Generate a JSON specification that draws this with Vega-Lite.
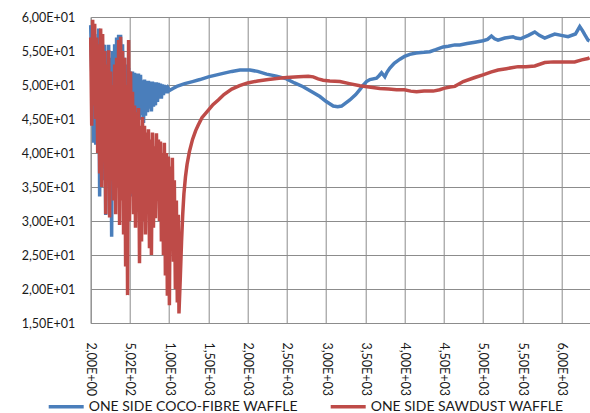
{
  "$schema": "https://vega.github.io/schema/vega-lite/v6.json",
  "autosize": {"type": "none"},
  "padding": {"left": 90.7, "top": 17, "right": 0.3, "bottom": 90},
  "width": 499,
  "height": 306,
  "background": "white",
  "config": {
    "view": {"stroke": null},
    "font": "Lato",
    "axis": {"labelFont": "Lato", "labelFontSize": 12.5, "labelColor": "#1a1a1a", "gridColor": "#8c8c8c", "gridWidth": 1, "domainColor": "#8c8c8c", "ticks": false}
  },
  "datasets": {
    "coco": [
      {"x":2,"y":58.8},{"x":15,"y":52},{"x":27,"y":58},{"x":40,"y":41.5},{"x":53,"y":57.5},{"x":66,"y":41.2},{"x":78,"y":55},{"x":91,"y":45},{"x":104,"y":58.3},{"x":116,"y":33.6},{"x":129,"y":57},{"x":142,"y":38},{"x":154,"y":56},{"x":167,"y":36},{"x":180,"y":55.9},{"x":193,"y":30.9},{"x":205,"y":55},{"x":218,"y":40},{"x":231,"y":55.9},{"x":243,"y":35},{"x":256,"y":54},{"x":269,"y":27.7},{"x":281,"y":55},{"x":294,"y":40},{"x":307,"y":56},{"x":320,"y":42},{"x":332,"y":57},{"x":345,"y":44},{"x":358,"y":57.4},{"x":370,"y":43},{"x":383,"y":57.4},{"x":396,"y":42},{"x":408,"y":56},{"x":421,"y":40},{"x":434,"y":54},{"x":447,"y":38},{"x":459,"y":53},{"x":472,"y":36},{"x":485,"y":52.5},{"x":497,"y":35},{"x":510,"y":52},{"x":523,"y":33.6},{"x":535,"y":52},{"x":548,"y":38},{"x":561,"y":51.8},{"x":573,"y":42},{"x":586,"y":51.7},{"x":599,"y":44},{"x":611,"y":51.7},{"x":624,"y":45},{"x":637,"y":51.5},{"x":650,"y":45.6},{"x":662,"y":50.7},{"x":675,"y":44.4},{"x":688,"y":50.8},{"x":700,"y":45.5},{"x":713,"y":50.6},{"x":726,"y":46},{"x":738,"y":50.6},{"x":751,"y":46.5},{"x":764,"y":50.5},{"x":776,"y":46.1},{"x":789,"y":50.5},{"x":802,"y":46.8},{"x":814,"y":50.4},{"x":827,"y":47},{"x":840,"y":50.4},{"x":853,"y":47.5},{"x":865,"y":50.3},{"x":878,"y":48},{"x":891,"y":50.2},{"x":903,"y":48},{"x":916,"y":50.1},{"x":929,"y":48.5},{"x":941,"y":50},{"x":954,"y":48.8},{"x":967,"y":49.9},{"x":979,"y":48.8},{"x":992,"y":49.5},{"x":1008,"y":49.2},{"x":1050,"y":49.5},{"x":1100,"y":49.8},{"x":1200,"y":50.2},{"x":1300,"y":50.5},{"x":1394,"y":50.8},{"x":1502,"y":51.2},{"x":1649,"y":51.6},{"x":1800,"y":52.0},{"x":1904,"y":52.2},{"x":2031,"y":52.2},{"x":2130,"y":52.0},{"x":2243,"y":51.6},{"x":2370,"y":51.3},{"x":2498,"y":50.9},{"x":2600,"y":50.3},{"x":2710,"y":49.75},{"x":2820,"y":49.0},{"x":2923,"y":48.3},{"x":3000,"y":47.6},{"x":3093,"y":46.9},{"x":3150,"y":46.8},{"x":3200,"y":46.9},{"x":3305,"y":47.8},{"x":3380,"y":48.6},{"x":3432,"y":49.3},{"x":3470,"y":49.9},{"x":3517,"y":50.5},{"x":3560,"y":50.8},{"x":3645,"y":51.0},{"x":3680,"y":51.4},{"x":3709,"y":51.8},{"x":3751,"y":51.2},{"x":3780,"y":51.9},{"x":3815,"y":52.5},{"x":3870,"y":53.2},{"x":3943,"y":53.8},{"x":4002,"y":54.2},{"x":4069,"y":54.5},{"x":4150,"y":54.7},{"x":4250,"y":54.8},{"x":4324,"y":54.9},{"x":4400,"y":55.2},{"x":4494,"y":55.6},{"x":4560,"y":55.7},{"x":4643,"y":55.9},{"x":4706,"y":55.9},{"x":4800,"y":56.1},{"x":4900,"y":56.3},{"x":5002,"y":56.5},{"x":5060,"y":56.7},{"x":5110,"y":57.2},{"x":5150,"y":56.8},{"x":5194,"y":56.6},{"x":5280,"y":56.9},{"x":5385,"y":57.1},{"x":5420,"y":56.9},{"x":5480,"y":56.8},{"x":5580,"y":57.3},{"x":5662,"y":57.8},{"x":5720,"y":57.3},{"x":5789,"y":56.9},{"x":5850,"y":57.2},{"x":5917,"y":57.5},{"x":6000,"y":57.3},{"x":6086,"y":57.1},{"x":6180,"y":57.5},{"x":6235,"y":58.6},{"x":6270,"y":58.0},{"x":6299,"y":57.4},{"x":6341,"y":56.6},{"x":6360,"y":56.5}
    ],
    "sawdust": [
      {"x":2,"y":57},{"x":15,"y":44},{"x":27,"y":59.6},{"x":40,"y":47},{"x":53,"y":59},{"x":66,"y":45},{"x":78,"y":57},{"x":91,"y":40},{"x":104,"y":56},{"x":116,"y":37},{"x":129,"y":58.3},{"x":142,"y":35},{"x":154,"y":57.5},{"x":167,"y":42},{"x":180,"y":55},{"x":193,"y":31},{"x":205,"y":53},{"x":218,"y":38},{"x":231,"y":55.1},{"x":243,"y":30.5},{"x":256,"y":52},{"x":269,"y":36},{"x":281,"y":50},{"x":294,"y":33},{"x":307,"y":53},{"x":320,"y":31},{"x":332,"y":54},{"x":345,"y":35},{"x":358,"y":56.6},{"x":370,"y":29.4},{"x":383,"y":57.1},{"x":396,"y":33},{"x":408,"y":55},{"x":421,"y":28},{"x":434,"y":54},{"x":447,"y":23.3},{"x":459,"y":50},{"x":472,"y":19.1},{"x":485,"y":56.6},{"x":497,"y":30},{"x":510,"y":52},{"x":523,"y":34},{"x":535,"y":49},{"x":548,"y":31},{"x":561,"y":47},{"x":573,"y":29},{"x":586,"y":46},{"x":599,"y":33},{"x":611,"y":46.6},{"x":624,"y":23.8},{"x":637,"y":44},{"x":650,"y":27},{"x":662,"y":45.3},{"x":675,"y":30},{"x":688,"y":44},{"x":700,"y":28},{"x":713,"y":43},{"x":726,"y":32},{"x":738,"y":43.5},{"x":751,"y":26},{"x":764,"y":42},{"x":776,"y":25},{"x":789,"y":43},{"x":802,"y":29},{"x":814,"y":41},{"x":827,"y":30.4},{"x":840,"y":42.9},{"x":853,"y":33},{"x":865,"y":42},{"x":878,"y":30},{"x":891,"y":41.7},{"x":903,"y":27},{"x":916,"y":40},{"x":929,"y":25},{"x":941,"y":41.5},{"x":954,"y":22},{"x":967,"y":40},{"x":979,"y":19},{"x":992,"y":39.5},{"x":1005,"y":17.6},{"x":1017,"y":38},{"x":1030,"y":25.8},{"x":1043,"y":39.3},{"x":1056,"y":24},{"x":1068,"y":36},{"x":1081,"y":20},{"x":1094,"y":33},{"x":1106,"y":18},{"x":1119,"y":30.9},{"x":1127,"y":16.4},{"x":1145,"y":22},{"x":1160,"y":27},{"x":1175,"y":31},{"x":1190,"y":34},{"x":1210,"y":36.5},{"x":1230,"y":38.3},{"x":1260,"y":40.2},{"x":1300,"y":42},{"x":1340,"y":43.3},{"x":1373,"y":44.1},{"x":1420,"y":45.2},{"x":1502,"y":46.3},{"x":1560,"y":47.1},{"x":1628,"y":47.8},{"x":1700,"y":48.6},{"x":1800,"y":49.4},{"x":1900,"y":49.9},{"x":2002,"y":50.3},{"x":2130,"y":50.6},{"x":2265,"y":50.8},{"x":2400,"y":51.0},{"x":2500,"y":51.1},{"x":2650,"y":51.2},{"x":2775,"y":51.3},{"x":2838,"y":51.2},{"x":2900,"y":50.9},{"x":2965,"y":50.7},{"x":3050,"y":50.6},{"x":3178,"y":50.5},{"x":3300,"y":50.2},{"x":3432,"y":49.9},{"x":3550,"y":49.7},{"x":3687,"y":49.5},{"x":3800,"y":49.4},{"x":3900,"y":49.3},{"x":4002,"y":49.3},{"x":4080,"y":49.1},{"x":4155,"y":49.0},{"x":4250,"y":49.1},{"x":4367,"y":49.1},{"x":4450,"y":49.3},{"x":4502,"y":49.5},{"x":4580,"y":49.7},{"x":4643,"y":49.8},{"x":4750,"y":50.5},{"x":4898,"y":51.1},{"x":5002,"y":51.5},{"x":5100,"y":51.9},{"x":5194,"y":52.2},{"x":5300,"y":52.4},{"x":5449,"y":52.7},{"x":5550,"y":52.7},{"x":5662,"y":52.8},{"x":5789,"y":53.3},{"x":5900,"y":53.4},{"x":6002,"y":53.4},{"x":6170,"y":53.4},{"x":6260,"y":53.7},{"x":6340,"y":53.9},{"x":6360,"y":54.0}
    ]
  },
  "encoding": {
    "x": {
      "field": "x", "type": "quantitative",
      "scale": {"domain": [2, 6362], "nice": false, "zero": false},
      "axis": {"title": null, "values": [2, 502, 1002, 1502, 2002, 2502, 3002, 3502, 4002, 4502, 5002, 5502, 6002], "labelAngle": 90, "labelPadding": 19, "labelExpr": "replace(replace(format(datum.value, '.2e'), 'e+', 'E+0'), '.', ',')"}
    },
    "y": {
      "field": "y", "type": "quantitative",
      "scale": {"domain": [15, 60], "nice": false, "zero": false},
      "axis": {"title": null, "values": [15, 20, 25, 30, 35, 40, 45, 50, 55, 60], "labelPadding": 16, "labelExpr": "replace(replace(format(datum.value, '.2e'), 'e+', 'E+0'), '.', ',')"}
    }
  },
  "layer": [
    {
      "data": {"name": "coco"},
      "mark": {"type": "line", "strokeWidth": 3.5, "interpolate": "linear"},
      "encoding": {
        "color": {
          "datum": "ONE SIDE COCO-FIBRE WAFFLE",
          "scale": {"domain": ["ONE SIDE COCO-FIBRE WAFFLE", "ONE SIDE SAWDUST WAFFLE"], "range": ["#4A7EBB", "#BE4B48"]},
          "legend": {"title": null, "orient": "none", "direction": "horizontal", "legendX": -44, "legendY": 370, "symbolType": "stroke", "symbolSize": 1225, "symbolStrokeWidth": 3.5, "labelFont": "Lato", "labelFontSize": 14, "labelColor": "#1a1a1a", "labelLimit": 400, "labelOffset": 3, "columnPadding": 25, "padding": 0}
        }
      }
    },
    {
      "data": {"name": "sawdust"},
      "mark": {"type": "line", "strokeWidth": 3.5, "interpolate": "linear"},
      "encoding": {"color": {"datum": "ONE SIDE SAWDUST WAFFLE"}}
    }
  ],
  "resolve": {"scale": {"color": "shared"}}
}
